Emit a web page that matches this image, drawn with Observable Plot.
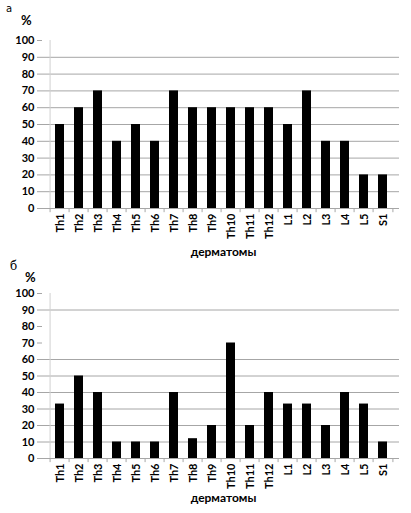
<!DOCTYPE html>
<html><head><meta charset="utf-8">
<script src="https://cdn.jsdelivr.net/npm/d3@7"></script>
<script src="https://cdn.jsdelivr.net/npm/@observablehq/plot@0.6"></script>
<style>
body{margin:0;background:#fff;font-family:Lato,"Open Sans",sans-serif;}
#wrap{position:relative;width:411px;height:513px;overflow:hidden;}
.lab{position:absolute;font-weight:bold;color:#000;}
.plot{position:absolute;left:0;}
</style></head>
<body><div id="wrap"></div>
<script>
const categories = ["Th1","Th2","Th3","Th4","Th5","Th6","Th7","Th8","Th9","Th10","Th11","Th12","L1","L2","L3","L4","L5","S1"];
const valuesA = [50,60,70,40,50,40,70,60,60,60,60,60,50,70,40,40,20,20];
const valuesB = [33,50,40,10,10,10,40,12,20,70,20,40,33,33,20,40,33,10];
const yTicks = [0,10,20,30,40,50,60,70,80,90,100];
const gridA = [10,20,30,40,50,60,70,80,90];
const gridB = [10,20,30,40,50,60,90];
const panelLabels = ["а","б"];
const yLabel = "%";
const xLabel = "дерматомы";

const W = 411;
function chart(values, grid, top, height, mt, mb) {
  const ml = 42, mr = 12;
  const step = (W - ml - mr) / categories.length;
  const data = categories.map((c, i) => ({c, v: values[i]}));
  const p = Plot.plot({
    width: W, height, marginTop: mt, marginBottom: mb, marginLeft: ml, marginRight: mr,
    style: {fontFamily: "Lato, 'Open Sans', sans-serif", fontWeight: "bold", fontSize: "11px", color: "#000", background: "transparent"},
    x: {domain: categories, padding: 0.55, label: null},
    y: {domain: [0, 100], label: null},
    marks: [
      Plot.ruleY(grid, {stroke: "#a6a6a6", strokeWidth: 1}),
      Plot.barY(data, {x: "c", y: "v", fill: "#000"}),
      Plot.ruleY([0], {stroke: "#a6a6a6"}),
      Plot.ruleX(categories.concat(["__end"]).slice(0, categories.length), {x: d => d, y1: 0, y2: -2.5, dx: -step/2, stroke: "#a6a6a6", clip: false}),
      Plot.ruleX([categories[categories.length-1]], {y1: 0, y2: -2.5, dx: step/2, stroke: "#a6a6a6"}),
      Plot.axisY({ticks: yTicks, tickSize: 5, tickPadding: 3, stroke: "#a6a6a6", fontSize: 11, fontWeight: "bold", label: null}),
      Plot.ruleX([0], {x: () => categories[0], dx: -step/2, y1: 0, y2: 100, stroke: "#d0d0d0"}),
      Plot.axisX({tickRotate: -90, tickSize: 0, tickPadding: 5, fontSize: 11, fontWeight: "bold", label: null})
    ]
  });
  p.classList.add("plot");
  p.style.top = top + "px";
  return p;
}
const wrap = document.getElementById("wrap");
wrap.appendChild(chart(valuesA, gridA, 0, 255, 40, 47));
wrap.appendChild(chart(valuesB, gridB, 255, 258, 38, 55));

function lab(text, x, y, size, weight) {
  const d = document.createElement("div");
  d.className = "lab";
  d.textContent = text;
  d.style.left = x + "px"; d.style.top = y + "px";
  d.style.fontSize = size + "px";
  if (weight) d.style.fontWeight = weight;
  wrap.appendChild(d);
  return d;
}
lab(panelLabels[0], 6, 3, 10, "normal").style.fontFamily = "'DejaVu Sans', sans-serif";
lab(yLabel, 21, 12, 13);
lab(panelLabels[1], 10, 259, 12, "normal").style.fontFamily = "'DejaVu Serif', serif";
lab(yLabel, 25, 269, 13);
const xl1 = lab(xLabel, 0, 244, 12); xl1.style.width = "100%"; xl1.style.textAlign = "center"; xl1.style.left = "18px";
const xl2 = lab(xLabel, 0, 490, 12); xl2.style.width = "100%"; xl2.style.textAlign = "center"; xl2.style.left = "18px";
</script></body></html>
